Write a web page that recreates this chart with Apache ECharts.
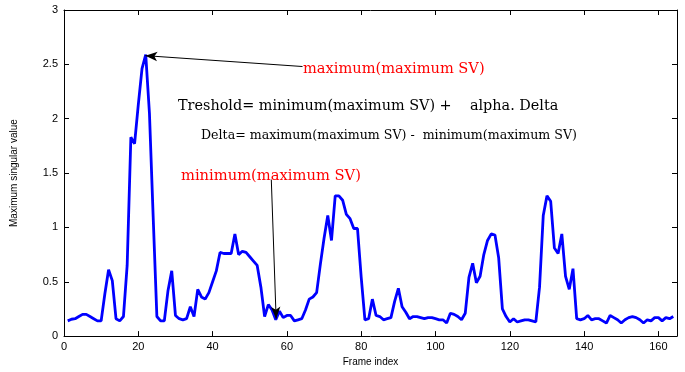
<!DOCTYPE html>
<html>
<head>
<meta charset="utf-8">
<script src="https://cdn.jsdelivr.net/npm/echarts@6/dist/echarts.min.js"></script>
<style>
  html, body { margin: 0; padding: 0; background: #fff; }
  #chart { width: 685px; height: 372px; }
</style>
</head>
<body>
<div id="chart"></div>
<script>
// maximum singular value per frame, frames start at 1
const firstFrame = 1
const maxSV = [
  0.14, 0.155, 0.16, 0.18, 0.20, 0.20, 0.18, 0.16, 0.14, 0.14,
  0.39, 0.61, 0.51, 0.16, 0.14, 0.18, 0.65, 1.83, 1.77, 2.13,
  2.46, 2.59, 2.05, 1.10, 0.18, 0.14, 0.14, 0.42, 0.60, 0.19,
  0.16, 0.15, 0.16, 0.27, 0.18, 0.43, 0.36, 0.34, 0.40, 0.50,
  0.60, 0.77, 0.76, 0.76, 0.76, 0.94, 0.75, 0.78, 0.77, 0.73,
  0.69, 0.65, 0.45, 0.18, 0.29, 0.24, 0.15, 0.23, 0.17, 0.19,
  0.19, 0.14, 0.15, 0.16, 0.24, 0.34, 0.36, 0.40, 0.66, 0.90,
  1.11, 0.88, 1.29, 1.29, 1.25, 1.12, 1.08, 0.99, 0.99, 0.54,
  0.15, 0.16, 0.34, 0.19, 0.18, 0.15, 0.16, 0.17, 0.32, 0.44,
  0.27, 0.22, 0.16, 0.18, 0.18, 0.17, 0.16, 0.17, 0.17, 0.16,
  0.15, 0.15, 0.12, 0.21, 0.20, 0.18, 0.15, 0.21, 0.54, 0.67,
  0.49, 0.55, 0.75, 0.88, 0.94, 0.93, 0.72, 0.25, 0.18, 0.13,
  0.16, 0.13, 0.14, 0.15, 0.15, 0.14, 0.13, 0.45, 1.11, 1.29,
  1.24, 0.81, 0.76, 0.94, 0.55, 0.43, 0.62, 0.16, 0.15, 0.16,
  0.19, 0.15, 0.16, 0.16, 0.14, 0.12, 0.19, 0.17, 0.15, 0.12,
  0.15, 0.17, 0.18, 0.17, 0.15, 0.12, 0.15, 0.14, 0.17, 0.17,
  0.14, 0.17, 0.16, 0.18
]
const xTicks = [0, 20, 40, 60, 80, 100, 120, 140, 160]
const yTicks = [0, 0.5, 1, 1.5, 2, 2.5, 3]

// arrows: [from, to] in data coords
const maxArrow = [[64.2, 2.48], [21.9, 2.58]]
const minArrow = [[55.8, 1.44], [57.1, 0.16]]

const points = []
for (let i = 0; i < maxSV.length; i++) {
  points.push([firstFrame + i, maxSV[i]])
}

const chart = echarts.init(document.getElementById('chart'))

const axisCommon = {
  type: 'value',
  axisLine: { show: true, onZero: false, lineStyle: { color: '#000', width: 1 } },
  axisTick: { show: true, inside: true, length: 5, lineStyle: { color: '#000' } },
  splitLine: { show: false }
}
const labelFont = { color: '#000', fontSize: 11, fontFamily: 'Liberation Sans, Arial, sans-serif' }

function arrowLine(a) {
  return [
    { coord: a[0], symbol: 'none' },
    { coord: a[1], symbol: 'arrow', symbolSize: [7, 12] }
  ]
}

const serif = 'DejaVu Serif, serif'

chart.setOption({
  animation: false,
  grid: { left: 64, right: 8, top: 10, bottom: 29, containLabel: false },
  xAxis: [
    Object.assign({}, axisCommon, {
      min: xTicks[0],
      max: 165,
      interval: 20,
      name: 'Frame index',
      nameLocation: 'middle',
      nameGap: 19,
      nameTextStyle: { color: '#000', fontSize: 10, fontFamily: 'Liberation Sans, Arial, sans-serif' },
      axisLabel: Object.assign({}, labelFont, {
        margin: 5,
        showMaxLabel: false,
        formatter: function(v) { return xTicks.indexOf(v) >= 0 ? String(v) : '' }
      })
    }),
    Object.assign({}, axisCommon, {
      position: 'top',
      min: xTicks[0],
      max: 165,
      interval: 20,
      axisLabel: { show: false }
    })
  ],
  yAxis: [
    Object.assign({}, axisCommon, {
      min: yTicks[0],
      max: yTicks[yTicks.length - 1],
      interval: 0.5,
      name: 'Maximum singular value',
      nameLocation: 'middle',
      nameGap: 45,
      nameTextStyle: { color: '#000', fontSize: 10, fontFamily: 'Liberation Sans Narrow, Liberation Sans, sans-serif' },
      axisLabel: Object.assign({}, labelFont, { margin: 6 })
    }),
    Object.assign({}, axisCommon, {
      position: 'right',
      min: yTicks[0],
      max: yTicks[yTicks.length - 1],
      interval: 0.5,
      axisLabel: { show: false }
    })
  ],
  series: [{
    type: 'line',
    data: points,
    showSymbol: false,
    symbol: 'none',
    lineStyle: { color: '#0000ff', width: 2.8 },
    markLine: {
      silent: true,
      label: { show: false },
      lineStyle: { color: '#000', width: 1, type: 'solid' },
      data: [arrowLine(maxArrow), arrowLine(minArrow)]
    }
  }],
  graphic: [
    {
      type: 'text', left: 303, top: 62,
      style: { text: 'maximum(maximum SV)', fill: '#ff0000', font: '14.6px ' + serif }
    },
    {
      type: 'text', left: 178, top: 99,
      style: { text: 'Treshold= minimum(maximum SV) +    alpha. Delta', fill: '#000', font: '14.4px ' + serif }
    },
    {
      type: 'text', left: 201, top: 129,
      style: { text: 'Delta= maximum(maximum SV) -  minimum(maximum SV)', fill: '#000', font: '12.6px ' + serif }
    },
    {
      type: 'text', left: 181, top: 169,
      style: { text: 'minimum(maximum SV)', fill: '#ff0000', font: '14.7px ' + serif }
    }
  ]
})
</script>
</body>
</html>
